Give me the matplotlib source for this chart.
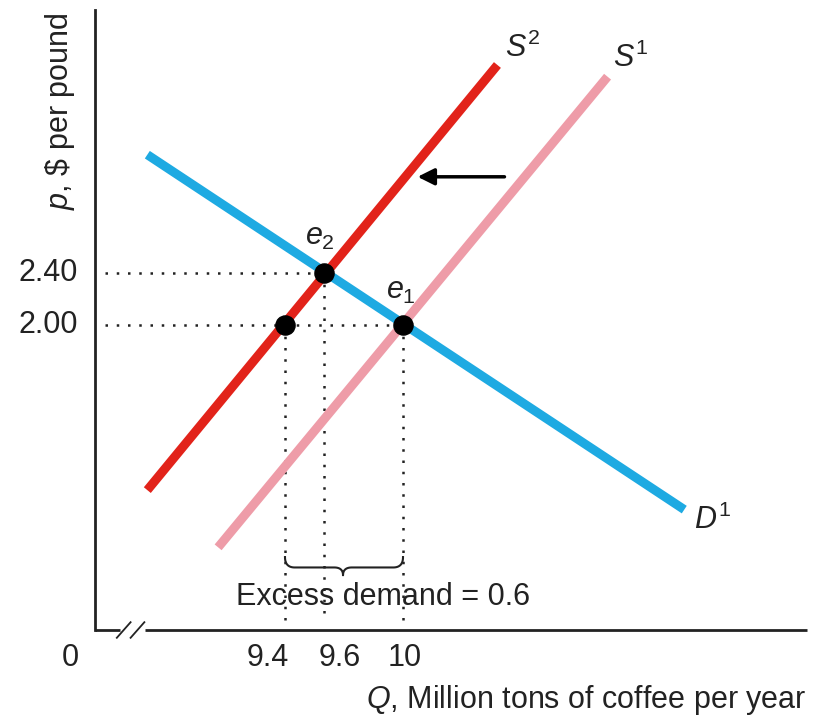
import numpy as np
import matplotlib.pyplot as plt

plt.rcParams['font.family'] = ['Liberation Sans', 'DejaVu Sans']
plt.rcParams['mathtext.fontset'] = 'custom'
plt.rcParams['mathtext.it'] = 'Liberation Sans:italic'
plt.rcParams['mathtext.rm'] = 'Liberation Sans'

# curves (quantity, price) end points
demand_q = [8.70, 11.43]
demand_p = [3.31, 0.58]
s1_q = [9.06, 11.04]
s1_p = [0.29, 3.91]
s2_q = [8.70, 10.48]
s2_p = [0.73, 4.00]

# equilibrium / marked points
pts_q = [9.4, 9.6, 10.0]
pts_p = [2.0, 2.4, 2.0]

xtick_vals = [9.4, 9.6, 10.0]
xtick_labels = ['9.4', '9.6', '10']
ytick_vals = [2.0, 2.4]
ytick_labels = ['2.00', '2.40']

W, H = 825, 722
fig = plt.figure(figsize=(W / 100, H / 100), dpi=100)
ax = fig.add_axes([95 / W, 1 - 630 / H, (807 - 95) / W, (630 - 10) / H])
ax.set_xlim(8.434, 12.054)
ax.set_ylim(-0.346, 4.423)
for s in ['top', 'right', 'bottom']:
    ax.spines[s].set_visible(False)
ax.spines['left'].set_linewidth(2)
ax.spines['left'].set_color('#222222')
ax.set_xticks([])
ax.set_yticks([])

x0, x1 = ax.get_xlim()
y0 = ax.get_ylim()[0]
ink = '#222222'
fs = 22

# x axis with break
ax.plot([x0, 8.56], [y0, y0], color=ink, lw=2, clip_on=False, solid_capstyle='butt')
ax.plot([8.69, x1], [y0, y0], color=ink, lw=2, clip_on=False, solid_capstyle='butt')
for xb in [8.58, 8.65]:
    ax.plot([xb - 0.035, xb + 0.035], [y0 - 0.06, y0 + 0.06], color=ink, lw=1.3, clip_on=False)

# dotted guides
dot = dict(color=ink, lw=1.8, linestyle=(0, (1, 3.5)), clip_on=False)
ax.plot([x0 + 0.05, 9.6], [2.4, 2.4], **dot)
ax.plot([x0 + 0.05, 10.0], [2.0, 2.0], **dot)
for q, p in zip(pts_q, pts_p):
    ax.plot([q, q], [p, y0 + 0.08], **dot)

# curves
ax.plot(s1_q, s1_p, color='#EE9CA8', lw=6.5, solid_capstyle='butt')
ax.plot(s2_q, s2_p, color='#E2231A', lw=6.5, solid_capstyle='butt')
ax.plot(demand_q, demand_p, color='#1EAAE2', lw=6.5, solid_capstyle='butt')
ax.scatter(pts_q, pts_p, s=190, color='black', zorder=5)

# shift arrow
ax.annotate('', xy=(10.06, 3.14), xytext=(10.53, 3.14),
            arrowprops=dict(arrowstyle='-|>', color='black', lw=2.5, mutation_scale=25))

# labels on curves
ax.text(10.52, 4.13, r'$\mathit{S}^{2}$', fontsize=fs, ha='left', va='center', color=ink)
ax.text(11.07, 4.05, r'$\mathit{S}^{1}$', fontsize=fs, ha='left', va='center', color=ink)
ax.text(11.48, 0.50, r'$\mathit{D}^{1}$', fontsize=fs, ha='left', va='center', color=ink)
ax.text(9.58, 2.68, r'$\mathit{e}_{2}$', fontsize=fs, ha='center', va='center', color=ink)
ax.text(9.99, 2.26, r'$\mathit{e}_{1}$', fontsize=fs, ha='center', va='center', color=ink)


# curly brace under the gap 9.4 .. 10
def bez(p0, p1, p2, n=30):
    t = np.linspace(0, 1, n)[:, None]
    return (1 - t) ** 2 * np.array(p0) + 2 * (1 - t) * t * np.array(p1) + t ** 2 * np.array(p2)


qa, qb = pts_q[0], pts_q[2]
qm = 9.695
top, mid, tip = 0.215, 0.135, 0.075
segs = [
    bez((qa, top), (qa, mid), (qa + 0.05, mid)),
    np.array([(qa + 0.05, mid), (qm - 0.045, mid)]),
    bez((qm - 0.045, mid), (qm, mid), (qm, tip)),
    bez((qm, tip), (qm, mid), (qm + 0.045, mid)),
    np.array([(qm + 0.045, mid), (qb - 0.05, mid)]),
    bez((qb - 0.05, mid), (qb, mid), (qb, top)),
]
brace = np.vstack(segs)
ax.plot(brace[:, 0], brace[:, 1], color=ink, lw=1.5)
ax.text(9.898, -0.09, 'Excess demand = 0.6', fontsize=fs, ha='center', va='center', color=ink)

# tick labels (spread a little so they do not collide)
xlab_pos = [9.31, 9.68, 10.01]
for v, lab in zip(xlab_pos, xtick_labels):
    ax.text(v, y0 - 0.216, lab, fontsize=fs, ha='center', va='center', color=ink)
ax.text(x0 - 0.127, y0 - 0.216, '0', fontsize=fs, ha='center', va='center', color=ink)
for v, lab in zip(ytick_vals, ytick_labels):
    ax.text(x0 - 0.085, v, lab, fontsize=fs, ha='right', va='center', color=ink)

ax.text(x1, -0.885, r'$\mathit{Q}$, Million tons of coffee per year', fontsize=fs,
        ha='right', va='center', color=ink)
ax.text(x0 - 0.178, 4.40, r'$\mathit{p}$, \$ per pound', fontsize=fs, rotation=90,
        ha='center', va='top', color=ink)

fig.savefig('out.png', dpi=100)
